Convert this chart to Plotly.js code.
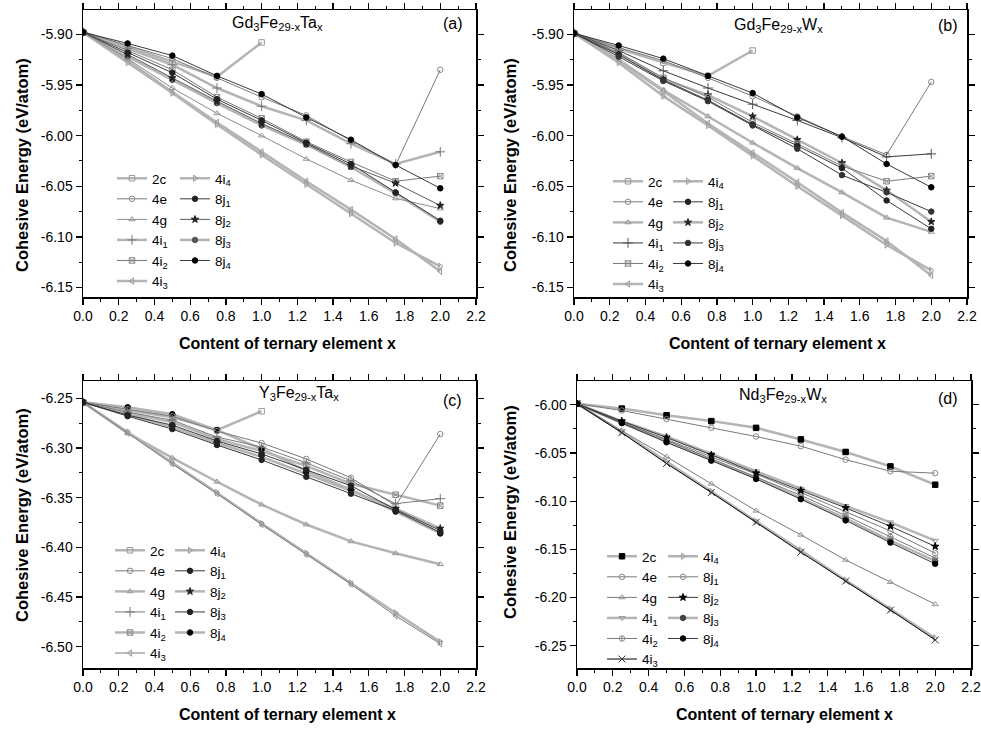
<!DOCTYPE html>
<html><head><meta charset="utf-8">
<script src="https://cdn.plot.ly/plotly-3.0.1.min.js"></script>
<style>html,body{margin:0;padding:0;background:#fff}#chart{width:981px;height:729px}</style>
</head><body><div id="chart"></div>
<script>
// ---------------- DATA ----------------
const contentX = [0, 0.25, 0.5, 0.75, 1.0, 1.25, 1.5, 1.75, 2.0];
const siteLabels = ['2c','4e','4g','4i<sub>1</sub>','4i<sub>2</sub>','4i<sub>3</sub>','4i<sub>4</sub>','8j<sub>1</sub>','8j<sub>2</sub>','8j<sub>3</sub>','8j<sub>4</sub>'];
const panelTitles = ['Gd<sub>3</sub>Fe<sub>29-x</sub>Ta<sub>x</sub>','Gd<sub>3</sub>Fe<sub>29-x</sub>W<sub>x</sub>','Y<sub>3</sub>Fe<sub>29-x</sub>Ta<sub>x</sub>','Nd<sub>3</sub>Fe<sub>29-x</sub>W<sub>x</sub>'];
const panelTags = ['(a)','(b)','(c)','(d)'];
const xTitleText = 'Content of ternary element x';
const yTitleText = 'Cohesive Energy (eV/atom)';

// (a) Gd3Fe29-xTax  — rows follow siteLabels order
const energyGdTa = [
  [-5.898,-5.912,-5.927,-5.942,-5.908,null,null,null,null],
  [-5.898,-5.911,-5.924,-5.943,-5.962,-5.980,-6.005,-6.029,-5.935],
  [-5.898,-5.924,-5.953,-5.978,-6.000,-6.023,-6.044,-6.062,-6.072],
  [-5.898,-5.914,-5.930,-5.953,-5.971,-5.985,-6.008,-6.028,-6.016],
  [-5.898,-5.916,-5.935,-5.962,-5.983,-6.006,-6.026,-6.045,-6.040],
  [-5.898,-5.926,-5.957,-5.987,-6.016,-6.045,-6.073,-6.102,-6.134],
  [-5.898,-5.928,-5.958,-5.989,-6.019,-6.048,-6.077,-6.106,-6.129],
  [-5.898,-5.918,-5.938,-5.964,-5.985,-6.007,-6.028,-6.056,-6.084],
  [-5.898,-5.920,-5.943,-5.966,-5.988,-6.008,-6.030,-6.047,-6.069],
  [-5.898,-5.922,-5.945,-5.968,-5.990,-6.009,-6.031,-6.057,-6.085],
  [-5.898,-5.909,-5.921,-5.941,-5.959,-5.982,-6.004,-6.029,-6.052]
];
// (b) Gd3Fe29-xWx
const energyGdW = [
  [-5.899,-5.914,-5.928,-5.941,-5.916,null,null,null,null],
  [-5.899,-5.913,-5.926,-5.943,-5.961,-5.981,-6.001,-6.019,-5.947],
  [-5.899,-5.925,-5.955,-5.981,-6.007,-6.032,-6.056,-6.081,-6.095],
  [-5.899,-5.916,-5.936,-5.953,-5.969,-5.985,-6.002,-6.021,-6.018],
  [-5.899,-5.918,-5.943,-5.962,-5.987,-6.008,-6.030,-6.045,-6.040],
  [-5.899,-5.926,-5.956,-5.988,-6.017,-6.046,-6.076,-6.104,-6.138],
  [-5.899,-5.928,-5.961,-5.990,-6.020,-6.050,-6.079,-6.108,-6.133],
  [-5.899,-5.920,-5.945,-5.965,-5.989,-6.010,-6.032,-6.064,-6.092],
  [-5.899,-5.919,-5.944,-5.960,-5.981,-6.004,-6.027,-6.054,-6.085],
  [-5.899,-5.922,-5.946,-5.966,-5.990,-6.013,-6.039,-6.056,-6.075],
  [-5.899,-5.911,-5.924,-5.941,-5.958,-5.982,-6.001,-6.028,-6.051]
];
// (c) Y3Fe29-xTax
const energyYTa = [
  [-6.254,-6.262,-6.269,-6.282,-6.263,null,null,null,null],
  [-6.254,-6.261,-6.268,-6.283,-6.295,-6.311,-6.330,-6.358,-6.286],
  [-6.254,-6.285,-6.310,-6.334,-6.357,-6.377,-6.394,-6.406,-6.417],
  [-6.254,-6.264,-6.272,-6.289,-6.299,-6.315,-6.333,-6.356,-6.351],
  [-6.254,-6.265,-6.274,-6.291,-6.303,-6.318,-6.336,-6.347,-6.358],
  [-6.254,-6.285,-6.316,-6.346,-6.377,-6.407,-6.437,-6.469,-6.497],
  [-6.254,-6.284,-6.315,-6.345,-6.376,-6.406,-6.436,-6.466,-6.495],
  [-6.254,-6.267,-6.277,-6.293,-6.306,-6.322,-6.338,-6.362,-6.383],
  [-6.254,-6.266,-6.279,-6.295,-6.309,-6.326,-6.343,-6.361,-6.381],
  [-6.254,-6.268,-6.281,-6.297,-6.312,-6.329,-6.346,-6.363,-6.385],
  [-6.254,-6.259,-6.266,-6.282,-6.301,-6.323,-6.342,-6.364,-6.386]
];
// (d) Nd3Fe29-xWx
const energyNdW = [
  [-5.999,-6.004,-6.011,-6.017,-6.024,-6.036,-6.049,-6.064,-6.083],
  [-5.999,-6.006,-6.015,-6.024,-6.033,-6.043,-6.057,-6.069,-6.071],
  [-5.999,-6.027,-6.054,-6.082,-6.110,-6.135,-6.161,-6.184,-6.207],
  [-5.999,-6.017,-6.033,-6.051,-6.069,-6.087,-6.105,-6.122,-6.141],
  [-5.999,-6.018,-6.037,-6.056,-6.075,-6.094,-6.115,-6.137,-6.159],
  [-5.999,-6.029,-6.061,-6.091,-6.122,-6.153,-6.183,-6.213,-6.244],
  [-5.999,-6.028,-6.059,-6.090,-6.121,-6.151,-6.182,-6.212,-6.242],
  [-5.999,-6.018,-6.036,-6.054,-6.072,-6.091,-6.111,-6.131,-6.154],
  [-5.999,-6.017,-6.034,-6.052,-6.071,-6.089,-6.107,-6.126,-6.147],
  [-5.999,-6.019,-6.038,-6.057,-6.076,-6.097,-6.118,-6.141,-6.162],
  [-5.999,-6.019,-6.039,-6.058,-6.077,-6.098,-6.120,-6.143,-6.165]
];

const yTickValsTop = [-5.90,-5.95,-6.00,-6.05,-6.10,-6.15];
const yTickTextTop = ['-5.90','-5.95','-6.00','-6.05','-6.10','-6.15'];
const yTickValsC = [-6.25,-6.30,-6.35,-6.40,-6.45,-6.50];
const yTickTextC = ['-6.25','-6.30','-6.35','-6.40','-6.45','-6.50'];
const yTickValsD = [-6.00,-6.05,-6.10,-6.15,-6.20,-6.25];
const yTickTextD = ['-6.00','-6.05','-6.10','-6.15','-6.20','-6.25'];

// ---------------- STYLE / LAYOUT ----------------
const W = 981, H = 729;
const FONT = 'Arial, "Liberation Sans", Helvetica, sans-serif';
const LT = '#b4b4b4', GR = '#7a7a7a', DK = '#3a3a3a', BK = '#000000';

const panelData = [energyGdTa, energyGdW, energyYTa, energyNdW];
const frames = [[83,476,10,297],[574,967,10,297],[83,476,381,668],[577,971,381,668]]; // px: l,r,t,b
const yRanges = [[-6.1593,-5.876],[-6.1593,-5.876],[-6.5214,-6.2326],[-6.2731,-5.9754]];
const yTicks = [[yTickValsTop,yTickTextTop],[yTickValsTop,yTickTextTop],[yTickValsC,yTickTextC],[yTickValsD,yTickTextD]];

const lineStyles = [
  [[LT,2.5],[GR,1],['#8c8c8c',1],[LT,2.5],[GR,1],[LT,2.5],[LT,2.5],[DK,1],['#5a5a5a',1],[LT,2.5],[DK,1]],
  [[LT,2.5],[GR,1],[LT,2.5],[DK,1],[GR,1],[LT,2.5],[LT,2.5],[DK,1],[LT,2.5],[DK,1],[DK,1]],
  [[LT,2.5],[GR,1],[LT,2.5],[GR,1],[LT,2.5],[GR,1],[LT,2.5],[DK,1],[LT,2.5],[DK,1],[LT,2.5]],
  [[LT,2.5],[GR,1],[GR,1],[LT,2.5],[GR,1],[BK,1],[LT,2.5],[GR,1],[DK,1],[LT,2.5],[DK,1]]
];
const symA = ['square-open','circle-open','triangle-up-open','cross-thin-open','square-x-open','triangle-left-open','triangle-right-open','circle','star','circle','circle'];
const symD = ['square','circle-open','triangle-up-open','triangle-down-open','circle-cross-open','x-thin-open','triangle-right-open','circle-open-dot','star','circle','circle'];
const symbols = [symA, symA, symA, symD];
const markerColors = [
  ['#999','#888','#999','#777','#888','#999','#999','#222','#222','#555','#000'],
  ['#999','#888','#999','#555','#888','#999','#999','#222','#222','#333','#000'],
  ['#999','#888','#999','#777','#888','#999','#999','#222','#222','#222','#000'],
  ['#000','#888','#999','#999','#888','#333','#999','#888','#000','#444','#000']
];
const legendPos = [[[112,163],[175,163]],[[608,166],[668,166]],[[110,535],[170,535]],[[602,541],[663,541]]];

const traces = [];
const layout = {
  width: W, height: H, autosize: false,
  margin: {l:0, r:0, t:0, b:0},
  paper_bgcolor: '#fff', plot_bgcolor: '#fff',
  font: {family: FONT, color: '#000'},
  annotations: []
};

function legendId(p, c) { const n = p*2 + c + 1; return n === 1 ? 'legend' : 'legend' + n; }

panelData.forEach((vals, p) => {
  const ax = p === 0 ? '' : String(p+1);
  const [l, r, t, b] = frames[p];
  // draw thick light lines first, thin ones on top
  const order = vals.map((_, i) => i).sort((a, c) => lineStyles[p][c][1] - lineStyles[p][a][1] || a - c);
  order.forEach(i => {
    const [lc, lw] = lineStyles[p][i];
    const sym = symbols[p][i];
    traces.push({
      type: 'scatter', mode: 'lines+markers',
      x: contentX, y: vals[i], name: siteLabels[i],
      xaxis: 'x' + ax, yaxis: 'y' + ax,
      legend: legendId(p, i < 6 ? 0 : 1), legendrank: i + 1,
      connectgaps: false,
      line: {color: lc, width: lw},
      marker: {symbol: sym, size: sym.indexOf('thin') >= 0 ? 7 : 5.5, color: markerColors[p][i],
               line: {color: markerColors[p][i], width: 1}},
      hoverinfo: 'x+y+name'
    });
  });
  layout['xaxis' + ax] = {
    domain: [l / W, r / W], anchor: 'y' + ax, range: [0, 2.2],
    tickmode: 'linear', tick0: 0, dtick: 0.2, tickformat: '.1f',
    ticks: 'outside', ticklen: 6, tickwidth: 1.2, tickcolor: '#000',
    minor: {ticks: 'outside', ticklen: 3, tickwidth: 1, tickmode: 'linear', tick0: 0, dtick: 0.1, tickcolor: '#000', showgrid: false},
    showline: true, linewidth: 1.5, linecolor: '#000', mirror: 'allticks',
    showgrid: false, zeroline: false,
    tickfont: {size: 14, family: FONT, color: '#000'}
  };
  layout['yaxis' + ax] = {
    domain: [1 - b / H, 1 - t / H], anchor: 'x' + ax, range: yRanges[p],
    tickmode: 'array', tickvals: yTicks[p][0], ticktext: yTicks[p][1],
    ticks: 'outside', ticklen: 6, tickwidth: 1.2, tickcolor: '#000',
    minor: {ticks: 'outside', ticklen: 3, tickwidth: 1, tickmode: 'linear', tick0: yTicks[p][0][0], dtick: 0.025, tickcolor: '#000', showgrid: false},
    showline: true, linewidth: 1.5, linecolor: '#000', mirror: 'allticks',
    showgrid: false, zeroline: false,
    tickfont: {size: 14, family: FONT, color: '#000'}
  };
  [0, 1].forEach(c => {
    const [lx, ly] = legendPos[p][c];
    layout[legendId(p, c)] = {
      x: lx / W, y: 1 - ly / H, xanchor: 'left', yanchor: 'top',
      xref: 'paper', yref: 'paper',
      bgcolor: 'rgba(0,0,0,0)', borderwidth: 0, tracegroupgap: 0,
      itemwidth: 30, traceorder: 'normal',
      font: {size: 13.5, family: FONT, color: '#000'}
    };
  });
});

const titlePos = [[277,23],[778,25],[299,393],[783,395]];
const tagPos = [[453,23],[948,25],[452,400],[948,398]];
const xTitlePos = [[287,343],[777,343],[287,714],[784,714]];
const yTitlePos = [[22,165],[510,165],[22,515],[510,512]];
for (let p = 0; p < 4; p++) {
  layout.annotations.push(
    {text: panelTitles[p], x: titlePos[p][0]/W, y: 1 - titlePos[p][1]/H, xref:'paper', yref:'paper', showarrow:false, xanchor:'center', yanchor:'middle', font:{size:16, family:FONT, color:'#000'}},
    {text: panelTags[p], x: tagPos[p][0]/W, y: 1 - tagPos[p][1]/H, xref:'paper', yref:'paper', showarrow:false, xanchor:'center', yanchor:'middle', font:{size:16, family:FONT, color:'#000'}},
    {text: '<b>' + xTitleText + '</b>', x: xTitlePos[p][0]/W, y: 1 - xTitlePos[p][1]/H, xref:'paper', yref:'paper', showarrow:false, xanchor:'center', yanchor:'middle', font:{size:16, family:FONT, color:'#000'}},
    {text: '<b>' + yTitleText + '</b>', x: yTitlePos[p][0]/W, y: 1 - yTitlePos[p][1]/H, xref:'paper', yref:'paper', showarrow:false, textangle:-90, xanchor:'center', yanchor:'middle', font:{size:16.5, family:FONT, color:'#000'}}
  );
}

Plotly.newPlot('chart', traces, layout, {displayModeBar: false, staticPlot: true});
</script>
</body></html>
